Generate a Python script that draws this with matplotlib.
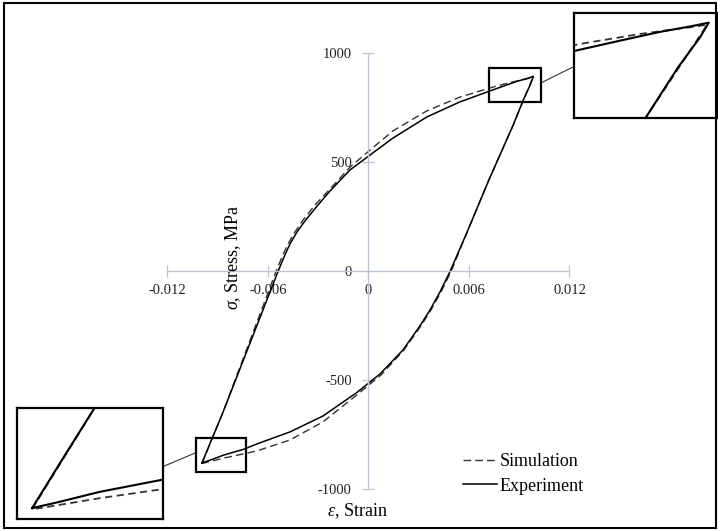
import matplotlib.pyplot as plt
from matplotlib.patches import Rectangle

plt.rcParams['font.family'] = ['Liberation Serif', 'DejaVu Serif']
plt.rcParams['mathtext.fontset'] = 'custom'
plt.rcParams['mathtext.rm'] = 'Liberation Serif'
plt.rcParams['mathtext.it'] = 'Liberation Serif:italic'
plt.rcParams['axes.unicode_minus'] = False

# experiment loop: loading branch (bottom tip -> top tip), then unloading back
exp_strain = [-0.00994, -0.00937, -0.00877, -0.00540, -0.00504, -0.00469, -0.00427,
              -0.00379, -0.00307, -0.00230, -0.00110, 0.00009, 0.00146, 0.00349,
              0.00546, 0.00743, 0.00812, 0.00890, 0.00949, 0.00985,
              0.00968, 0.00925, 0.00862, 0.00719, 0.00594, 0.00487, 0.00427,
              0.00367, 0.00307, 0.00206, 0.00069, -0.00069, -0.00272, -0.00469,
              -0.00666, -0.00743, -0.00864, -0.00941, -0.00994]
exp_stress = [-878, -772, -662, 0, 67, 126, 181,
              232, 300, 369, 466, 534, 612, 709,
              778, 833, 852, 873, 886, 895,
              860, 788, 668, 420, 190, 0, -94,
              -177, -250, -360, -470, -555, -663, -736,
              -791, -815, -842, -864, -878]

# simulation loop
sim_strain = [-0.00994, -0.00877, -0.00552, -0.00516, -0.00481, -0.00439, -0.00391,
              -0.00319, -0.00230, -0.00110, 0.00003, 0.00146, 0.00349, 0.00546,
              0.00743, 0.00851, 0.00948, 0.00982,
              0.00862, 0.00719, 0.00594, 0.00493, 0.00433, 0.00373, 0.00313,
              0.00212, 0.00075, -0.00069, -0.00272, -0.00469, -0.00666, -0.00743,
              -0.00864, -0.00979, -0.00994]
sim_stress = [-880, -662, 0, 67, 126, 181, 236,
              305, 378, 479, 553, 645, 737, 800,
              846, 868, 884, 890,
              668, 420, 190, 0, -94, -177, -250,
              -360, -475, -566, -690, -773, -823, -836,
              -856, -878, -880]

xticks = [-0.012, -0.006, 0, 0.006, 0.012]
xticklabels = ['-0.012', '-0.006', '0', '0.006', '0.012']
yticks = [-1000, -500, 0, 500, 1000]

W, H = 718, 530
fig = plt.figure(figsize=(W / 100, H / 100), dpi=100)

# main axes fill the whole figure, axes cross at the origin
ax = fig.add_axes([0, 0, 1, 1])
ax.set_xlim(-0.0220, 0.02087)
ax.set_ylim(-1185.8, 1245.4)
ax.patch.set_alpha(0)

axcol = '#BCC3D0'
for s in ['top', 'right']:
    ax.spines[s].set_visible(False)
ax.spines['left'].set_position(('data', 0))
ax.spines['bottom'].set_position(('data', 0))
ax.spines['left'].set_bounds(-1000, 1000)
ax.spines['bottom'].set_bounds(-0.012, 0.012)
for s in ['left', 'bottom']:
    ax.spines[s].set_color(axcol)
    ax.spines[s].set_linewidth(0.9)
ax.set_xticks(xticks)
ax.set_xticklabels(xticklabels)
ax.set_yticks(yticks)
ax.tick_params(direction='inout', length=8, width=0.9, color=axcol,
               labelsize=10.5, labelcolor='#222222')
ax.tick_params(axis='x', pad=5)
ax.tick_params(axis='y', pad=8)

dash = (0, (5.5, 3))
l_sim, = ax.plot(sim_strain, sim_stress, color='#333333', lw=1.0, linestyle=dash,
                 label='Simulation')
l_exp, = ax.plot(exp_strain, exp_stress, color='black', lw=1.1, label='Experiment')

# zoom boxes at both tips
ax.add_patch(Rectangle((0.00719, 778), 0.0103 - 0.00719, 933 - 778, fill=False,
                       lw=1.6, color='black', zorder=5))
ax.add_patch(Rectangle((-0.0103, -920), 0.0103 - 0.00731, 920 - 764, fill=False,
                       lw=1.6, color='black', zorder=5))
ax.plot([0.0103, 0.01226], [865, 940], color='#333333', lw=0.8)
ax.plot([-0.0103, -0.01227], [-831, -895], color='#333333', lw=0.8)

ax.text(233 / W, 1 - 257 / H, r'$\sigma$, Stress, MPa', transform=ax.transAxes,
        rotation=90, ha='center', va='center', fontsize=13)
ax.text(357 / W, 1 - 511 / H, r'$\varepsilon$, Strain', transform=ax.transAxes,
        ha='center', va='center', fontsize=13)

ax.legend(handles=[l_sim, l_exp], loc='upper left', frameon=False,
          bbox_to_anchor=(463 / W, 1 - 453 / H), borderaxespad=0, borderpad=0,
          handlelength=1.9, handletextpad=0.12, labelspacing=0.42, fontsize=13)

# detail insets
def inset(rect, xlim, ylim):
    a = fig.add_axes(rect)
    a.plot(sim_strain, sim_stress, color='#333333', lw=1.3, linestyle=(0, (4, 2.5)))
    a.plot(exp_strain, exp_stress, color='black', lw=1.5)
    a.set_xlim(*xlim)
    a.set_ylim(*ylim)
    a.set_xticks([])
    a.set_yticks([])
    for s in a.spines.values():
        s.set_linewidth(1.6)
    return a

inset([574 / W, 1 - 118 / H, 144 / W, 105 / H], (0.00723, 0.01003), (668, 918))
inset([17 / W, 1 - 519 / H, 146 / W, 111 / H], (-0.01023, -0.00743), (-902, -657))

fig.patches.append(Rectangle((4 / W, 2 / H), 712 / W, 525 / H, fill=False, lw=1.5,
                             edgecolor='black', transform=fig.transFigure))

fig.savefig('out.png', dpi=100)
